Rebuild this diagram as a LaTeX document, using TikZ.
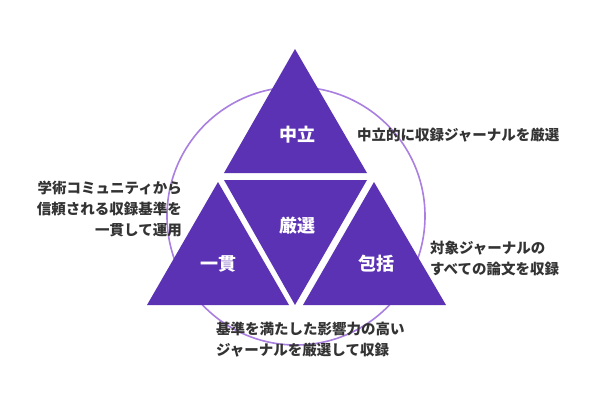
\documentclass[tikz,border=0pt]{standalone}
\usepackage{fontspec}
\setmainfont{Noto Sans CJK JP}
\definecolor{tri}{HTML}{5B32B4}
\definecolor{ring}{HTML}{A97FE0}
\definecolor{txt}{HTML}{333333}
\begin{document}
\begin{tikzpicture}[x=1pt,y=-1pt,
  tf/.style={fill=tri,draw=none},
  lab/.style={text=white,font=\fontsize{18}{20}\selectfont\bfseries},
  side/.style={text=txt,font=\fontsize{14.5}{21}\selectfont\bfseries,inner sep=0pt}]
\useasboundingbox (0,0) rectangle (600,400);
\fill[white] (0,0) rectangle (600,400);
\draw[ring,line width=1.6pt] (296,216) circle (129);
\fill[tf] (295,49) -- (367,173) -- (224,173) -- cycle;
\fill[tf] (224,180) -- (367,180) -- (295,305) -- cycle;
\fill[tf] (218,182) -- (289,305) -- (147,305) -- cycle;
\fill[tf] (374,182) -- (446,305) -- (303,305) -- cycle;
\node[lab] (a) at (297,135) {中立};
\node[lab] (b) at (297,226) {厳選};
\node[lab] (c) at (218,264) {一貫};
\node[lab] (d) at (376,264) {包括};
\node[side,anchor=west] (ta) at (357,135) {中立的に収録ジャーナルを厳選};
\node[side,anchor=east,align=right] (tc) at (182,209) {学術コミュニティから\\信頼される収録基準を\\一貫して運用};
\node[side,anchor=west,align=left] (td) at (430,258) {対象ジャーナルの\\すべての論文を収録};
\node[side,anchor=west,align=left] (tb) at (216,340) {基準を満たした影響力の高い\\ジャーナルを厳選して収録};
\end{tikzpicture}
\end{document}
